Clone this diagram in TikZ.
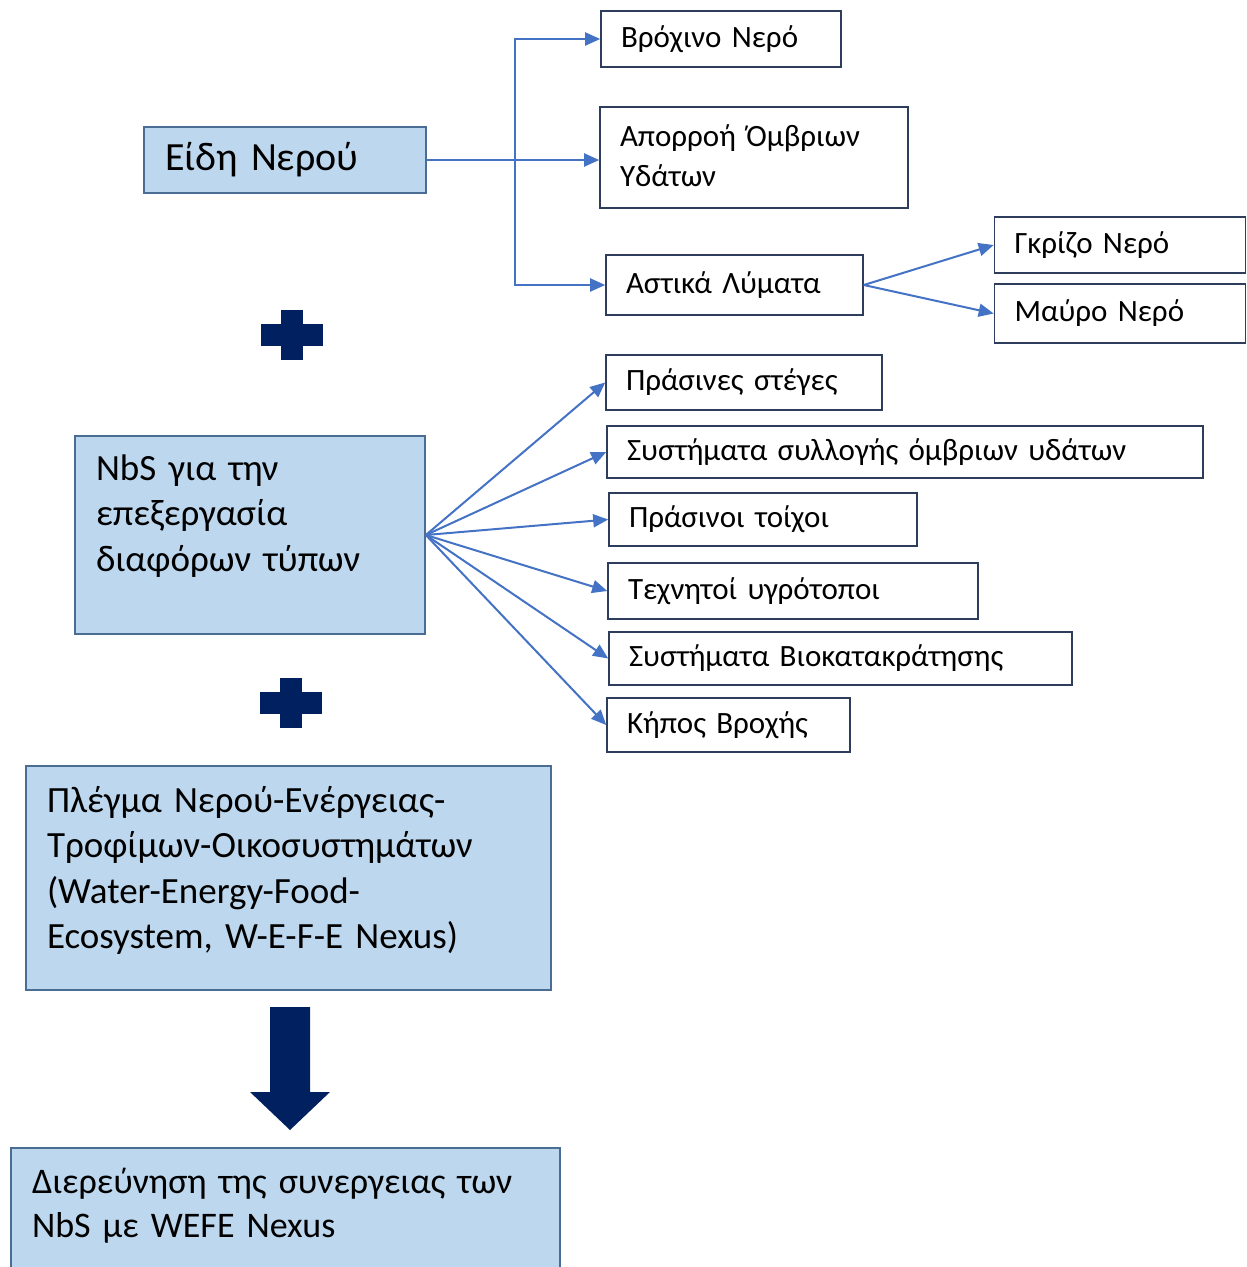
\documentclass[tikz,border=0pt]{standalone}
\usepackage{fontspec}
\setmainfont{Carlito}
\usetikzlibrary{arrows.meta}
\definecolor{boxfill}{HTML}{BDD7EE}
\definecolor{boxline}{HTML}{4A6D94}
\definecolor{leafline}{HTML}{2F3D5C}
\definecolor{flowblue}{HTML}{4472C4}
\definecolor{navy}{HTML}{002060}
\tikzset{
  mainbox/.style={draw=boxline, fill=boxfill, line width=1.6pt, align=left, inner xsep=21pt, inner ysep=0pt, font=\fontsize{37}{45.5}\selectfont},
  leaf/.style={draw=leafline, fill=white, line width=1.6pt, align=left, inner xsep=20pt, inner ysep=0pt, font=\fontsize{31}{40}\selectfont},
  flow/.style={draw=flowblue, line width=2pt, -{Triangle[length=15pt,width=13pt]}},
}
\begin{document}
\begin{tikzpicture}[x=1pt,y=-1pt]
	\fill[white] (0,0) rectangle (1247,1267);
	\useasboundingbox (0,0) rectangle (1247,1267);

	% water types
	\node[mainbox, text width=240pt, minimum height=66pt, font=\fontsize{40}{48}\selectfont] (kinds) at (285,160) {Είδη Νερού};
	\node[leaf, text width=200pt, minimum height=56pt] (rain) at (721,39) {Βρόχινο Νερό};
	\node[leaf, text width=268pt, minimum height=101pt, text height=39pt, text depth=62pt] (runoff) at (754,157.5) {Απορροή Όμβριων\\Υδάτων};
	\node[leaf, text width=217pt, minimum height=60pt] (sewage) at (734.5,285) {Αστικά Λύματα};
	\node[leaf, text width=211pt, minimum height=56pt] (grey) at (1120,245) {Γκρίζο Νερό};
	\node[leaf, text width=211pt, minimum height=59pt] (black) at (1120,313.5) {Μαύρο Νερό};

	\coordinate (split) at (515,160);
	\draw[flow] (kinds.east) -- (kinds.east -| runoff.west);
	\draw[flow] (split) |- (rain.west);
	\draw[flow] (split) |- (sewage.west);
	\draw[flow] (sewage.east) -- (grey.west);
	\draw[flow] (sewage.east) -- (black.west);

	% nature based solutions
	\node[mainbox, text width=308pt, minimum height=198pt, text height=44pt, text depth=154pt] (nbs) at (250,535) {NbS για την\\επεξεργασία\\διαφόρων τύπων};
	\node[leaf, text width=236pt, minimum height=55pt] (roofs) at (744,382.5) {Πράσινες στέγες};
	\node[leaf, text width=556pt, minimum height=52pt] (harvest) at (905,452) {Συστήματα συλλογής όμβριων υδάτων};
	\node[leaf, text width=268pt, minimum height=53pt] (walls) at (763,519.5) {Πράσινοι τοίχοι};
	\node[leaf, text width=330pt, minimum height=56pt] (wetlands) at (793,591) {Τεχνητοί υγρότοποι};
	\node[leaf, text width=423pt, minimum height=53pt] (bioret) at (840.5,658.5) {Συστήματα Βιοκατακράτησης};
	\node[leaf, text width=203pt, minimum height=54pt] (garden) at (728.5,725) {Κήπος Βροχής};

	\foreach \leafname in {roofs,harvest,walls,wetlands,bioret,garden}
		\draw[flow] (nbs.east) -- (\leafname.west);

	% plus signs
	\foreach \px/\py in {292/335, 291/703} {
		\fill[navy] (\px-31,\py-11) rectangle (\px+31,\py+11);
		\fill[navy] (\px-11,\py-25) rectangle (\px+11,\py+25);
	}

	% nexus and result
	\node[mainbox, text width=483pt, minimum height=224pt, text height=46pt, text depth=178pt] (nexus) at (288.5,878) {Πλέγμα Νερού-Ενέργειας-\\Τροφίμων-Οικοσυστημάτων\\(Water-Energy-Food-\\Ecosystem, W-E-F-E Nexus)};
	\node[mainbox, text width=507pt, minimum height=152pt, text height=45pt, text depth=107pt, font=\fontsize{36}{44}\selectfont] (result) at (285.5,1224) {Διερεύνηση της συνεργειας των\\NbS με WEFE Nexus};

	\fill[navy] (270,1007) -- (310,1007) -- (310,1092) -- (330,1092) -- (290,1130) -- (250,1092) -- (270,1092) -- cycle;
\end{tikzpicture}
\end{document}
